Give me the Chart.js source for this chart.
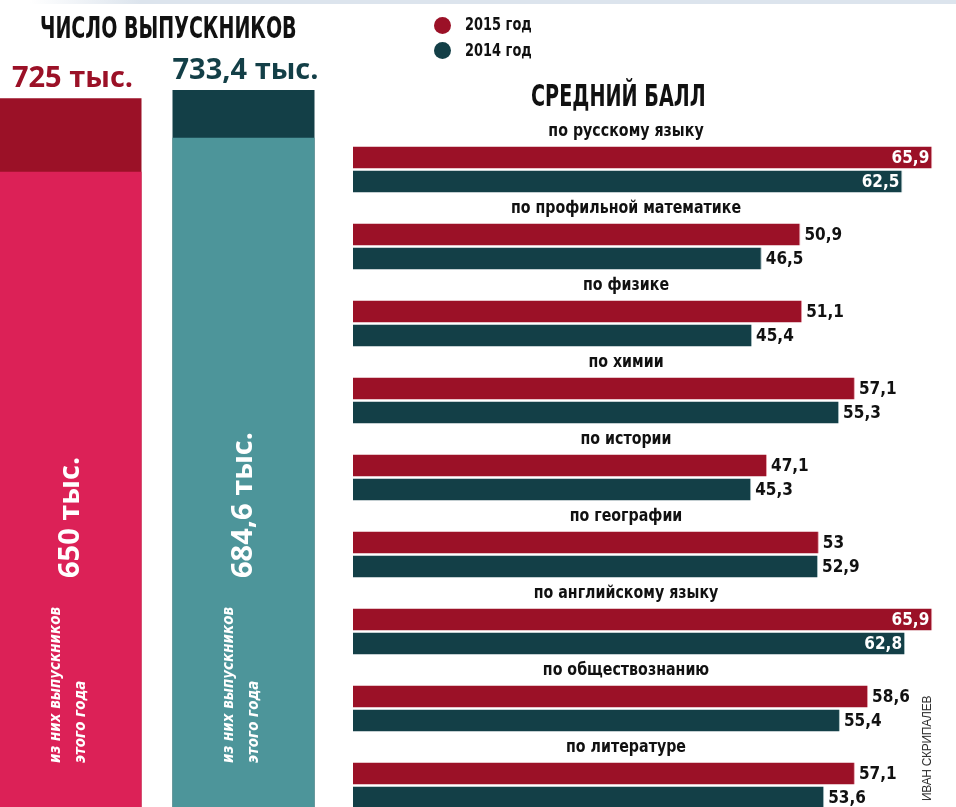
<!DOCTYPE html>
<html><head><meta charset="utf-8">
<script src="https://cdn.jsdelivr.net/npm/chart.js@4/dist/chart.umd.min.js"></script>
<style>
html,body{margin:0;padding:0;background:#fff;}
body{width:956px;height:807px;overflow:hidden;position:relative;}
.abs{position:absolute;white-space:nowrap;}
#strip{position:absolute;left:30px;top:0;width:926px;height:4px;background:linear-gradient(90deg,rgba(220,228,237,0),#dce4ed 12%,#dce4ed);}
.cond{font-family:"DejaVu Sans Condensed","Liberation Sans Narrow",sans-serif;font-weight:bold;color:#111;transform-origin:0 0;}
#t1{left:40px;top:10px;font-size:30px;line-height:36px;}
#t2{left:531px;top:78px;font-size:30px;line-height:36px;}
.dot{position:absolute;width:17px;height:17px;border-radius:50%;}
.leg{font-size:17px;line-height:20px;}
#credit{left:0;top:0;font:12px "Liberation Sans",Arial,sans-serif;color:#333;transform-origin:0 0;transform:translate(920px,801px) rotate(-90deg);letter-spacing:-0.3px;}
#leftWrap{position:absolute;left:-16px;top:0;width:346px;height:807px;}
#rightWrap{position:absolute;left:340px;top:0;width:616px;height:830px;}
</style></head>
<body>
<div id="strip"></div>
<div id="leftWrap"><canvas id="left" width="346" height="807"></canvas></div>
<div id="rightWrap"><canvas id="right" width="616" height="830"></canvas></div>
<div id="t1" class="abs cond" data-w="257">ЧИСЛО ВЫПУСКНИКОВ</div>
<div id="t2" class="abs cond" data-w="175">СРЕДНИЙ БАЛЛ</div>
<div class="dot" style="left:434px;top:17px;background:#9b1127"></div>
<div class="dot" style="left:434px;top:42px;background:#133f47"></div>
<div class="abs cond leg" style="left:465px;top:14px;" data-w="67">2015 год</div>
<div class="abs cond leg" style="left:465px;top:40px;" data-w="67">2014 год</div>
<div id="credit" class="abs">ИВАН СКРИПАЛЕВ</div>
<script>
// ---- data ----
const years = ['2015', '2014'];
const totalGraduates = [725, 733.4];        // тыс.
const currentGraduates = [650, 684.6];      // из них выпускников этого года, тыс.
const subjects = ['по русскому языку','по профильной математике','по физике','по химии','по истории','по географии','по английскому языку','по обществознанию','по литературе'];
const score2015 = [65.9, 50.9, 51.1, 57.1, 47.1, 53, 65.9, 58.6, 57.1];
const score2014 = [62.5, 46.5, 45.4, 55.3, 45.3, 52.9, 62.8, 55.4, 53.6];
const seriesNames = ['2015 год', '2014 год'];

// ---- style ----
const RED_DARK = '#9b1127', RED_LIGHT = '#dc2157', TEAL_DARK = '#133f47', TEAL_LIGHT = '#4d959a';
const COND = '"DejaVu Sans Condensed","Liberation Sans Narrow",sans-serif';
const fmt = v => String(v).replace('.', ',');

document.querySelectorAll('[data-w]').forEach(el => {
  const w = el.scrollWidth; const target = +el.dataset.w;
  el.style.transform = 'scaleX(' + (target / w) + ')';
});

// ---- left chart: graduates ----
const leftLabels = {
  id: 'leftLabels',
  afterDatasetsDraw(chart) {
    const ctx = chart.ctx;
    const mCur = chart.getDatasetMeta(0), mTot = chart.getDatasetMeta(1);
    ctx.save();
    mTot.data.forEach((bar, i) => {
      ctx.font = 'bold 29px "Open Sans",sans-serif';
      ctx.fillStyle = chart.data.datasets[1].backgroundColor[i];
      ctx.textAlign = 'center'; ctx.textBaseline = 'alphabetic';
      ctx.fillText(fmt(totalGraduates[i]) + ' тыс.', bar.x + 2, bar.y - 11);
    });
    mCur.data.forEach((bar, i) => {
      ctx.save();
      ctx.translate(bar.x + 8, bar.base - 229);
      ctx.rotate(-Math.PI / 2);
      ctx.fillStyle = '#fff'; ctx.textAlign = 'left'; ctx.textBaseline = 'alphabetic';
      ctx.font = 'bold 29px "Open Sans",sans-serif';
      ctx.fillText(fmt(currentGraduates[i]) + ' тыс.', 0, 0);
      ctx.restore();
      ctx.save();
      ctx.translate(bar.x, bar.base - 44);
      ctx.rotate(-Math.PI / 2);
      ctx.fillStyle = '#fff'; ctx.textAlign = 'left';
      ctx.font = 'italic bold 15px ' + COND;
      ctx.fillText('из них выпускников', 0, -11);
      ctx.fillText('этого года', 0, 14);
      ctx.restore();
    });
    ctx.restore();
  }
};
new Chart(document.getElementById('left'), {
  type: 'bar',
  data: {
    labels: years,
    datasets: [
      { label: 'из них выпускников этого года', data: currentGraduates, backgroundColor: [RED_LIGHT, TEAL_LIGHT], grouped: false },
      { label: 'всего', data: totalGraduates, backgroundColor: [RED_DARK, TEAL_DARK], grouped: false }
    ]
  },
  options: {
    responsive: false, animation: false,
    layout: { padding: 0 },
    categoryPercentage: 1, barPercentage: 142 / 173,
    scales: { x: { display: false }, y: { display: false, min: 0, max: 825.6 } },
    plugins: { legend: { display: false }, tooltip: { enabled: false } }
  },
  plugins: [leftLabels]
});

// ---- right chart: average scores ----
const INSIDE_MIN = 60;
const rightLabels = {
  id: 'rightLabels',
  afterDatasetsDraw(chart) {
    const ctx = chart.ctx, yS = chart.scales.y;
    ctx.save();
    ctx.font = 'bold 17px ' + COND;
    ctx.fillStyle = '#111'; ctx.textBaseline = 'middle'; ctx.textAlign = 'left';
    subjects.forEach((s, i) => {
      const w = ctx.measureText(s).width, sx = 0.93;
      ctx.save();
      ctx.translate(286 - w * sx / 2, yS.getPixelForValue(i) - 38);
      ctx.scale(sx, 1);
      ctx.fillText(s, 0, 0);
      ctx.restore();
    });
    ctx.font = 'bold 17px ' + COND;
    chart.data.datasets.forEach((ds, di) => {
      chart.getDatasetMeta(di).data.forEach((bar, i) => {
        const v = ds.data[i];
        if (v >= INSIDE_MIN) { ctx.fillStyle = '#fff'; ctx.textAlign = 'right'; ctx.fillText(fmt(v), bar.x - 3, bar.y + 1); }
        else { ctx.fillStyle = '#111'; ctx.textAlign = 'left'; ctx.fillText(fmt(v), bar.x + 4, bar.y + 1); }
      });
    });
    ctx.restore();
  }
};
new Chart(document.getElementById('right'), {
  type: 'bar',
  data: {
    labels: subjects,
    datasets: [
      { label: seriesNames[0], data: score2015, backgroundColor: RED_DARK, borderColor: '#e7a3ad', borderWidth: { right: 1, left: 0, top: 0, bottom: 0 }, borderSkipped: false },
      { label: seriesNames[1], data: score2014, backgroundColor: TEAL_DARK, borderColor: '#a9bfc2', borderWidth: { right: 1, left: 0, top: 0, bottom: 0 }, borderSkipped: false }
    ]
  },
  options: {
    indexAxis: 'y', responsive: false, animation: false,
    layout: { padding: { left: 13, right: 0, top: 131, bottom: 6 } },
    categoryPercentage: 48 / 77, barPercentage: 22 / 24,
    scales: { x: { display: false, min: 0, max: 68.6 }, y: { display: false } },
    plugins: { legend: { display: false }, tooltip: { enabled: false } }
  },
  plugins: [rightLabels]
});
</script>
</body></html>
